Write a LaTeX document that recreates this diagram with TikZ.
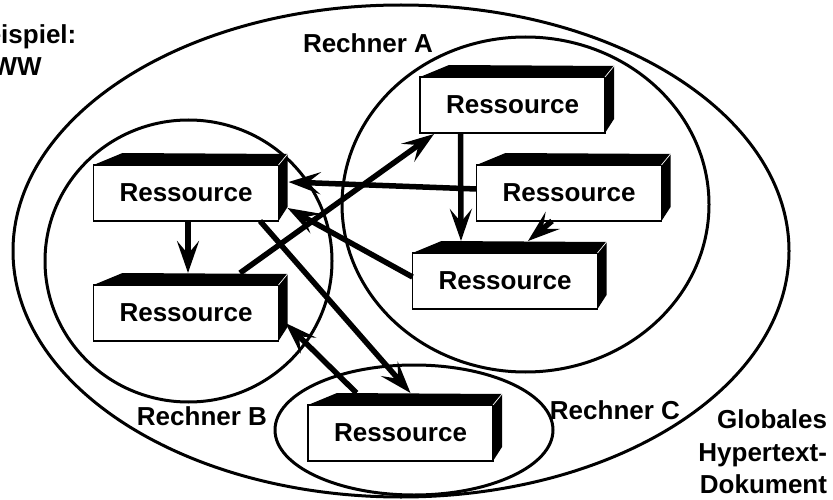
\documentclass[tikz,border=0pt]{standalone}
\usepackage{fontspec}
\setmainfont{Liberation Sans}
\usetikzlibrary{arrows.meta,calc}

% black top and right faces that turn a front node into a block
\newcommand\resfaces[1]{%
  \fill (#1.north west) -- ++(29,-12) -- ($(#1.north east)+(9,-11)$) -- (#1.north east) -- cycle;
  \fill (#1.north east) -- ++(9,-11) -- ($(#1.south east)+(9,-14)$) -- (#1.south east) -- cycle;
  \draw[white,line width=0.7pt] (#1.north east) -- ++(9,-11);
}

\begin{document}
\begin{tikzpicture}[x=1pt,y=-1pt,
  every node/.style={font=\bfseries\fontsize{26}{32}\selectfont},
  res/.style={draw,line width=1.2pt,fill=white,minimum width=185pt,
              minimum height=56pt,inner sep=0pt,outer sep=0pt},
  lbl/.style={inner sep=0pt,outer sep=0pt},
  region/.style={line width=3pt},
  link/.style={line width=5.5pt,-{Stealth[length=32pt,width=22pt,inset=13pt]}}]

\useasboundingbox (0,0) rectangle (833,500);

% computers and the global document
\draw[region] (401,251) ellipse [x radius=388pt, y radius=246pt];
\draw[region] (525.5,204.5) ellipse [x radius=183.5pt, y radius=167.5pt];
\draw[region] (188.5,261) ellipse [x radius=143.5pt, y radius=141pt];
\draw[region] (414,430) ellipse [x radius=139pt, y radius=65pt];

% resources
\node[res] (b1) at (186,193) {Ressource};
\node[res] (b2) at (186,313) {Ressource};
\node[res] (b3) at (512.5,105) {Ressource};
\node[res] (b4) at (569,193) {Ressource};
\node[res] (b5) at (505,281) {Ressource};
\node[res] (b6) at (400.5,433) {Ressource};
\resfaces{b1}\resfaces{b2}\resfaces{b3}\resfaces{b4}\resfaces{b5}\resfaces{b6}

% labels
\node[lbl,anchor=base west] (bsp1) at (-32,44) {Beispiel:};
\node[lbl,anchor=base west] (bsp2) at (-32,76) {WWW};
\node[lbl,anchor=base west] (ra) at (303,53) {Rechner A};
\node[lbl,anchor=base east] (rb) at (267,425) {Rechner B};
\node[lbl,anchor=base east] (rc) at (680,419) {Rechner C};
\node[lbl,anchor=base east] (g1) at (827,428) {Globales};
\node[lbl,anchor=base east] (g2) at (827,461) {Hypertext-};
\node[lbl,anchor=base east] (g3) at (827,493) {Dokument};

% hyperlinks
\draw[link] ($(b1.south)+(2,0)$) -- ($(b2.north)+(2,-12)$);
\draw[link] ($(b3.south)+(-52,0)$) -- ($(b5.north)+(-44,-12)$);
\draw[link] ($(b4.south)+(-17,0)$) -- ($(b5.north)+(23,-12)$);
\draw[link] ($(b4.west)+(0,-4)$) -- ($(b1.east)+(10,-11)$);
\draw[link] ($(b5.west)+(0,-4)$) -- ($(b1.south east)+(9,-13)$);
\draw[link] ($(b2.north)+(54,-12)$) -- ($(b3.south west)+(14,1)$);
\draw[link] ($(b1.south)+(74,0)$) -- ($(b6.north)+(10,-12)$);
\draw[link] ($(b6.north)+(-44,-12)$) -- ($(b2.east)+(7,10)$);
\end{tikzpicture}
\end{document}
